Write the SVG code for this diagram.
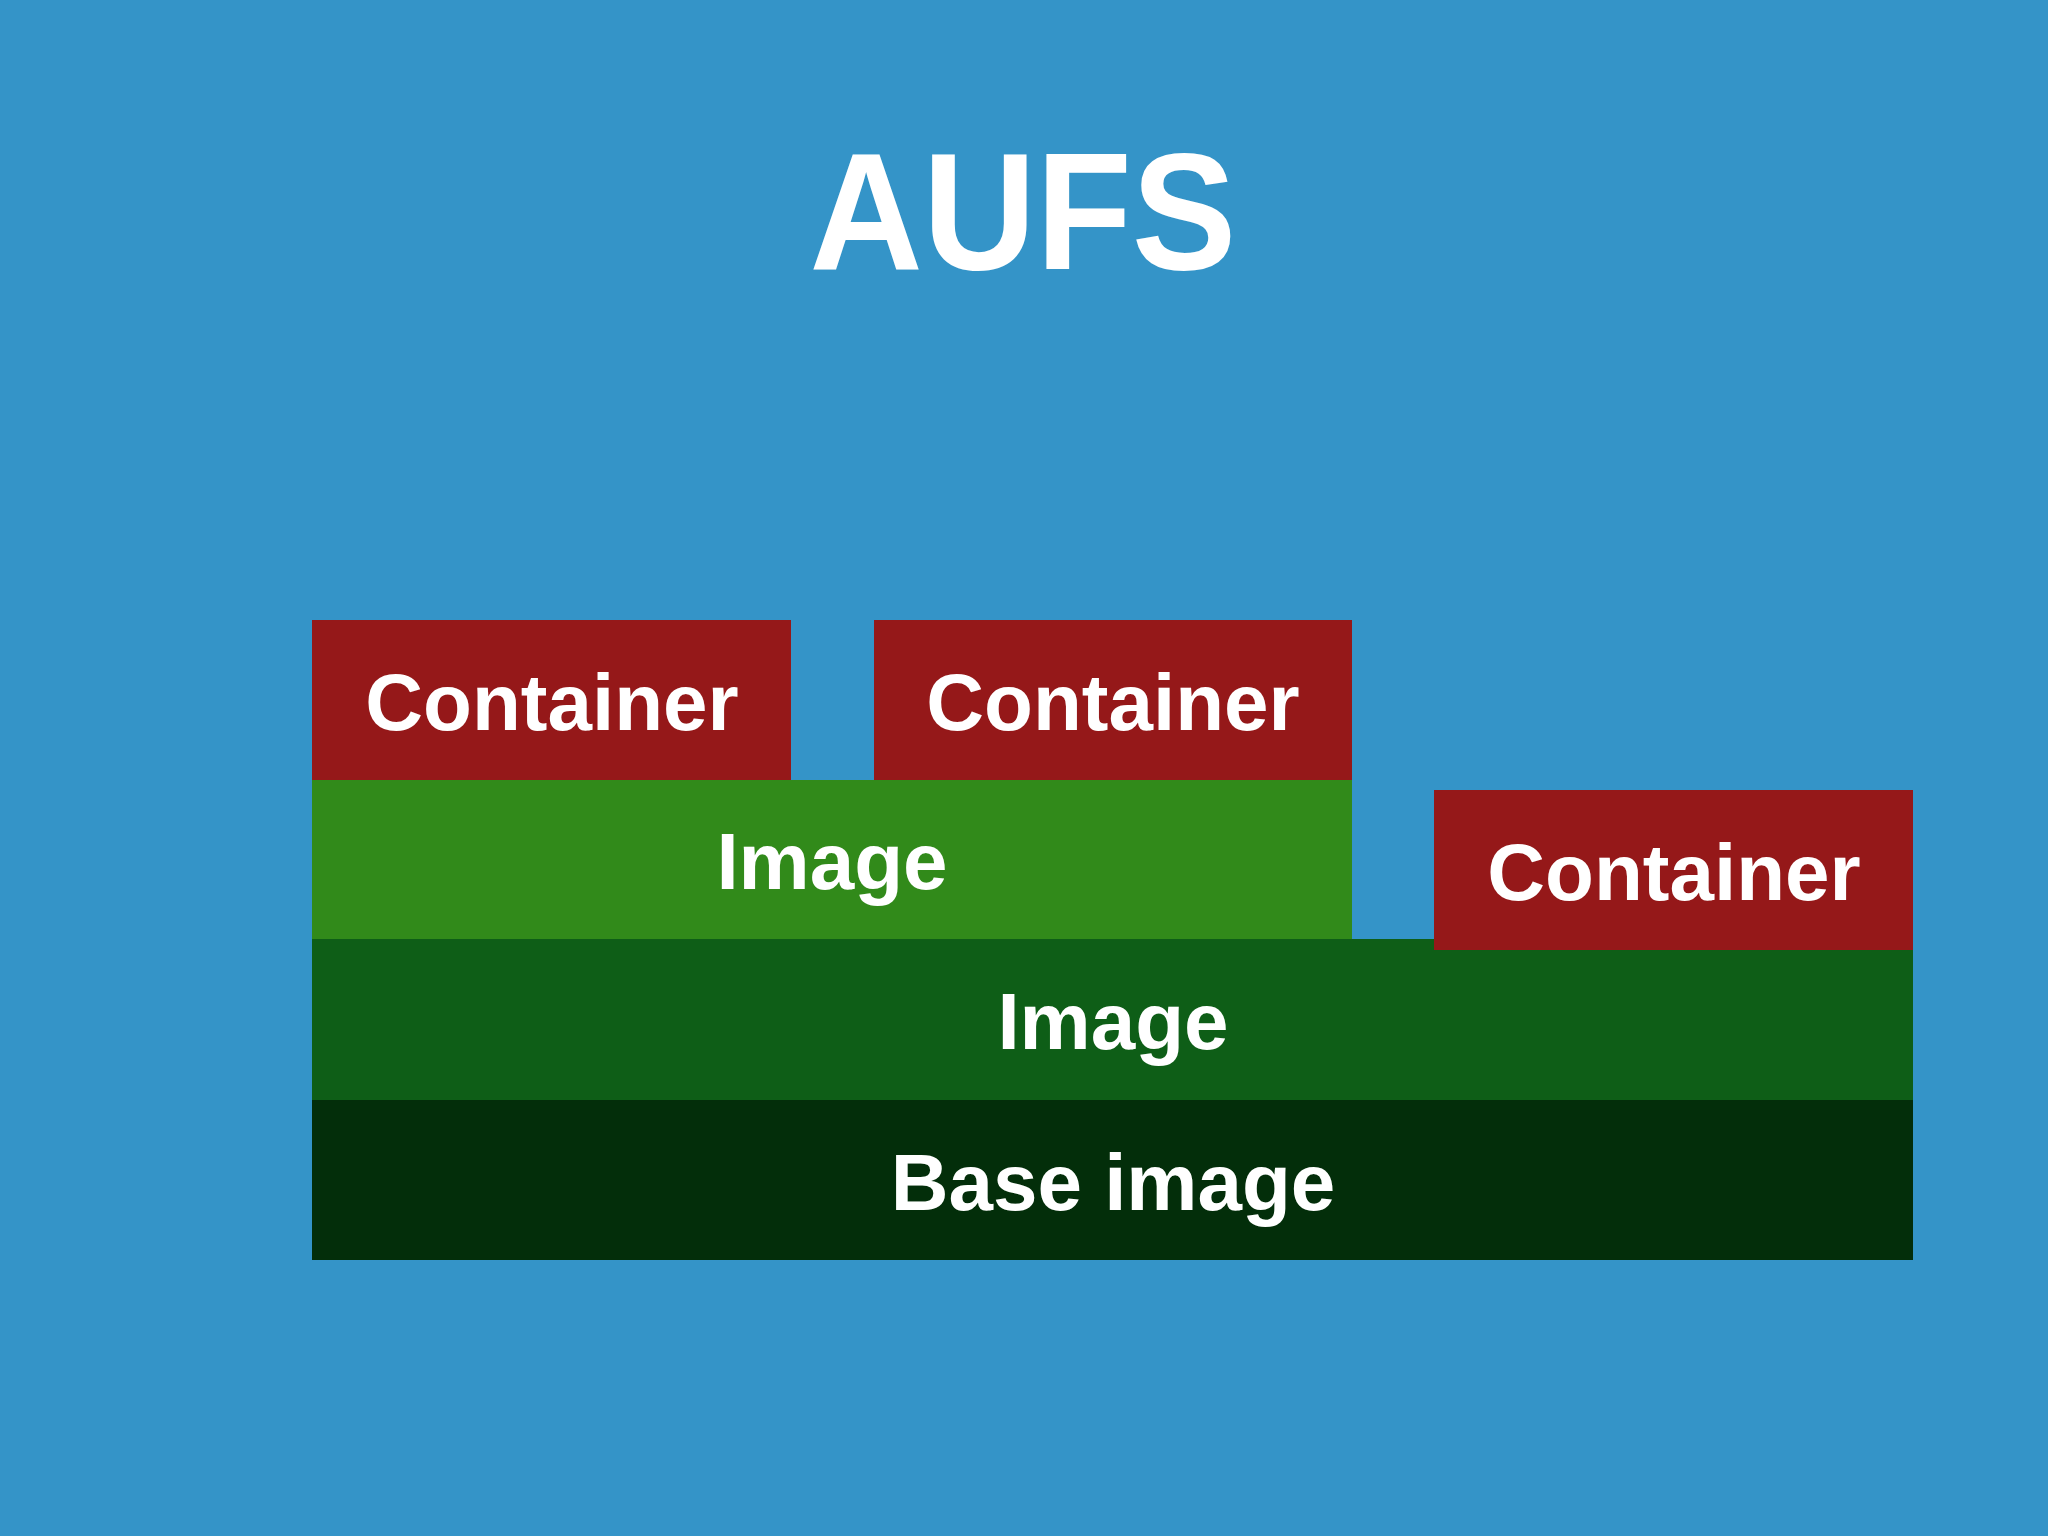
<svg xmlns="http://www.w3.org/2000/svg" width="2048" height="1536" viewBox="0 0 2048 1536">
  <style>
    .lbl { font-family: "Liberation Sans", Arial, sans-serif; font-weight: bold; font-size: 80px; fill: #ffffff; text-anchor: middle; }
    .title { font-family: "Liberation Sans", Arial, sans-serif; font-weight: bold; font-size: 167px; fill: #ffffff; text-anchor: middle; }
    .red { fill: #951819; }
    .lg { fill: #318A1A; }
    .dg { fill: #0E5E17; }
    .base { fill: #032E0A; }
  </style>
  <rect x="0" y="0" width="2048" height="1536" fill="#3494C8"/>
  <text class="title" x="1023" y="269" textLength="427" lengthAdjust="spacingAndGlyphs">AUFS</text>

  <g id="base-image">
    <rect class="base" x="312" y="1100" width="1601" height="160"/>
    <text class="lbl" x="1113" y="1210">Base image</text>
  </g>
  <g id="image-dark">
    <rect class="dg" x="312" y="939" width="1601" height="161"/>
    <text class="lbl" x="1113" y="1049">Image</text>
  </g>
  <g id="image-light">
    <rect class="lg" x="312" y="780" width="1040" height="159"/>
    <text class="lbl" x="832" y="889">Image</text>
  </g>
  <g id="container-1">
    <rect class="red" x="312" y="620" width="479" height="160"/>
    <text class="lbl" x="552" y="730">Container</text>
  </g>
  <g id="container-2">
    <rect class="red" x="874" y="620" width="478" height="160"/>
    <text class="lbl" x="1113" y="730">Container</text>
  </g>
  <g id="container-3">
    <rect class="red" x="1434" y="790" width="479" height="160"/>
    <text class="lbl" x="1674" y="900">Container</text>
  </g>
  <g id="connectors"></g>
</svg>
